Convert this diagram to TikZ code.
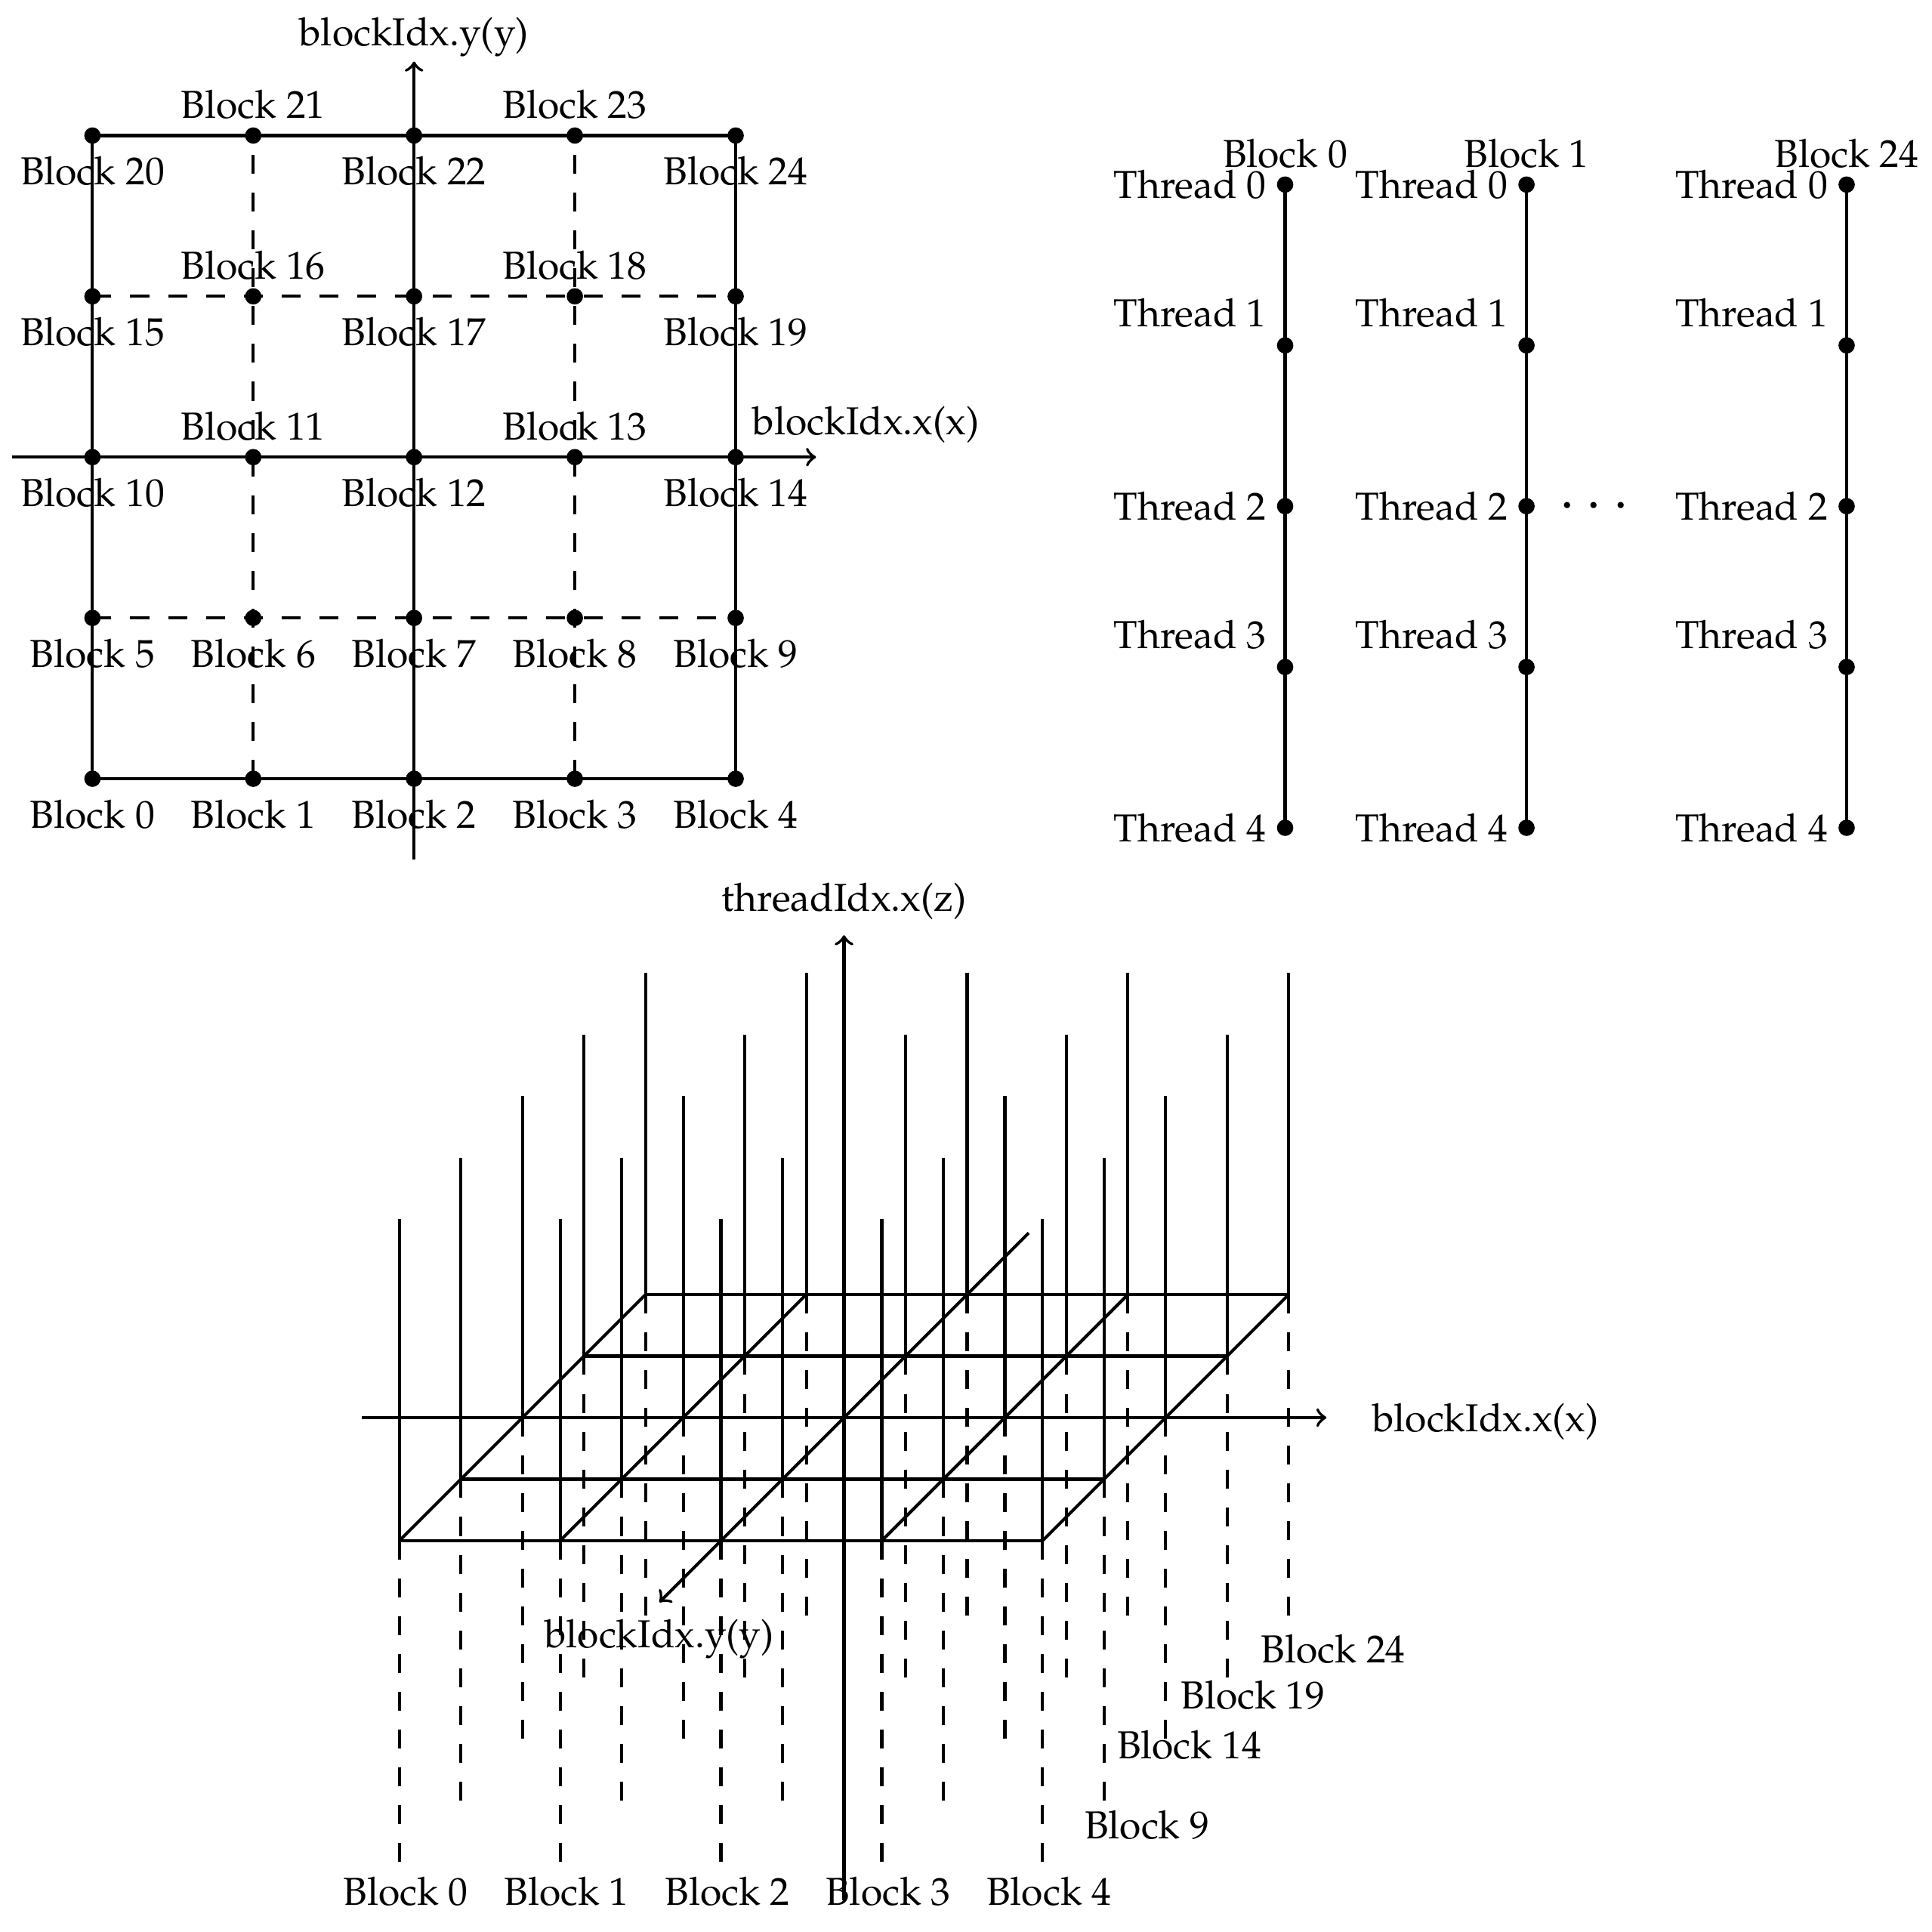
\documentclass[tikz,border=0pt]{standalone}
\usepackage[T1]{fontenc}
\usepackage{mathpazo}
\tikzset{hiddenline/.style = {dash pattern=on 4.85pt off 4.85pt},
         tlabel/.style = {anchor=east, inner sep=0pt}}
\begin{document}
\begin{tikzpicture}[x=1.45cm, y=1.45cm, thick]
  \useasboundingbox (0,0) rectangle (12.015,-12.015);
  \begin{scope}[shift={(0.575,-4.843)}]
    \foreach \i in {0,...,4}
      \foreach \j in {0,...,4}
        \coordinate (g-\i-\j) at (\i,\j);
    \coordinate (gy0) at (2,-0.5);
    \coordinate (gy1) at (2,4.46);
    \coordinate (gx0) at (-0.5,2);
    \coordinate (gx1) at (4.5,2);
    \draw (g-0-0) rectangle (g-4-4);
    \draw[hiddenline] (g-0-1) -- (g-4-1) (g-0-3) -- (g-4-3)
                      (g-1-0) -- (g-1-4) (g-3-0) -- (g-3-4);
    \draw[->] (gy0) -- (gy1);
    \draw[->] (gx0) -- (gx1);
    \node (gy-lbl) at (2,4.61) {blockIdx.y(y)};
    \node (gx-lbl) at (4.81,2.2) {blockIdx.x(x)};
    \foreach \j in {0,...,4}
      \foreach \i in {0,...,4} {
        \fill (g-\i-\j) circle (2.1pt);
        \pgfmathtruncatemacro\n{5*\j+\i}
        \pgfmathsetmacro\ly{and(\j>1,isodd(\i)) ? \j+0.193 : \j-0.222}
        \node (gb-\n) at (\i,\ly) {Block \n};
      }
  \end{scope}
  \foreach \c/\x/\b in {0/7.992/0, 1/9.493/1, 2/11.484/24} {
    \foreach \k in {0,...,4}
      \coordinate (t-\c-\k) at (\x,-1.148-\k);
    \draw (t-\c-0) -- (t-\c-4);
    \node (tb-\c) at (\x,-0.956) {Block \b};
    \foreach \k in {0,...,4} {
      \fill (t-\c-\k) circle (2.1pt);
      \pgfmathsetmacro\ly{isodd(\k) ? -0.948-\k : -1.148-\k}
      \node[tlabel] (tt-\c-\k) at (\x-0.107,\ly) {Thread \k};
    }
  }
  \node[font=\Large, anchor=base] (more) at (9.914,-3.232) {$\cdots$};
  \begin{scope}[shift={(5.249,-8.816)}, x={(1.45cm,0cm)}, y={(-0.555cm,-0.555cm)}, z={(0cm,1.45cm)}]
    \foreach \i in {0,...,4}
      \foreach \j in {0,...,4} {
        \coordinate (p-\i-\j) at (\i-2,2-\j,0);
        \draw (p-\i-\j) -- ++(0,0,2);
        \draw[hiddenline] (p-\i-\j) -- ++(0,0,-2);
      }
    \foreach \j in {0,1,3,4}
      \draw (p-0-\j) -- (p-4-\j);
    \foreach \i in {0,1,3,4}
      \draw (p-\i-0) -- (p-\i-4);
    \coordinate (ax0) at (-3,0,0);
    \coordinate (ax1) at (3,0,0);
    \coordinate (ay0) at (0,-3,0);
    \coordinate (ay1) at (0,3,0);
    \coordinate (az0) at (0,0,-3);
    \coordinate (az1) at (0,0,3);
    \draw[->] (ax0) -- (ax1);
    \draw[->] (ay0) -- (ay1);
    \draw[->] (az0) -- (az1);
    \node (az-lbl) at (0,0,3.21) {threadIdx.x(z)};
    \node (ay-lbl) at (0,3,-0.23) {blockIdx.y(y)};
    \node (ax-lbl) at (3.99,0,-0.027) {blockIdx.x(x)};
    \foreach \i in {0,...,4}
      \node (pb-\i) at (\i-1.96,2,-2.181) {Block \i};
  \end{scope}
  \node (pb-9) at (7.134,-11.349) {Block 9};
  \node (pb-14) at (7.395,-10.851) {Block 14};
  \node (pb-19) at (7.793,-10.544) {Block 19};
  \node (pb-24) at (8.291,-10.253) {Block 24};
\end{tikzpicture}
\end{document}
